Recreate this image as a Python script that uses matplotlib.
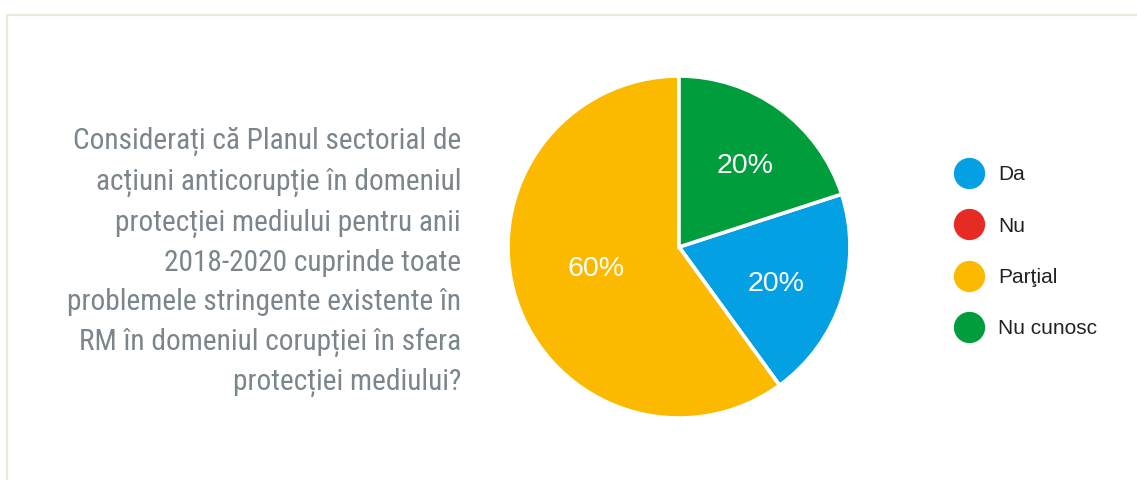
import matplotlib
matplotlib.use("Agg")
import matplotlib.pyplot as plt
from matplotlib import font_manager as fm
from matplotlib.lines import Line2D
import numpy as np

categories = ["Da", "Nu", "Parţial", "Nu cunosc"]
values = [20, 0, 60, 20]
colors = ["#03a0e3", "#e62a24", "#fbba00", "#009d3d"]
question = ("Considerați că Planul sectorial de\n"
            "acțiuni anticorupție în domeniul\n"
            "protecției mediului pentru anii\n"
            "2018-2020 cuprinde toate\n"
            "problemele stringente existente în\n"
            "RM în domeniul corupției în sfera\n"
            "protecției mediului?")

W, H = 1137, 480
fig = plt.figure(figsize=(W / 100, H / 100), dpi=100)
fig.patch.set_facecolor("white")

names = {f.name for f in fm.fontManager.ttflist}
qfam = "Roboto Condensed" if "Roboto Condensed" in names else "Roboto"
sans = "Liberation Sans" if "Liberation Sans" in names else "DejaVu Sans"

# frame lines (top and left)
frame = fig.add_axes([0, 0, 1, 1])
frame.set_xlim(0, W)
frame.set_ylim(H, 0)
frame.axis("off")
frame.plot([7, W], [15, 15], color="#e6ead6", lw=1.6, solid_capstyle="butt")
frame.plot([7, 7], [15, H], color="#e6ead6", lw=1.6, solid_capstyle="butt")

# question text
frame.text(461, 390, question, ha="right", va="baseline", fontsize=21.2,
           family=qfam, color="#7b868c", linespacing=1.51, multialignment="right")

# pie
cx, cy, r = 679, 247, 171
ax = fig.add_axes([(cx - r) / W, (H - cy - r) / H, 2 * r / W, 2 * r / H])
wedges, _ = ax.pie(values, colors=colors, startangle=18, counterclock=False,
                   wedgeprops=dict(edgecolor="white", linewidth=2.6))
ax.set_xlim(-1, 1)
ax.set_ylim(-1, 1)
ax.axis("off")

total = sum(values)
for w, v in zip(wedges, values):
    if v <= 0:
        continue
    mid = np.deg2rad((w.theta1 + w.theta2) / 2 - 3)
    d = 0.5 if v / total > 0.5 else 0.61
    ax.text(d * np.cos(mid), d * np.sin(mid), f"{round(100 * v / total)}%",
            ha="center", va="center", color="white", fontsize=20.5, family=sans)

# legend
handles = [Line2D([], [], marker="o", linestyle="none", markersize=21.5,
                  markerfacecolor=c, markeredgecolor=c) for c in colors]
fig.legend(handles, categories, loc="upper left",
           bbox_to_anchor=(948 / W, 1 - 155 / H), frameon=False,
           prop=dict(family=sans, size=15), labelspacing=1.55,
           handlelength=1.0, handletextpad=0.9, borderpad=0, labelcolor="#222222")

fig.savefig("out.png", dpi=100, facecolor="white")
